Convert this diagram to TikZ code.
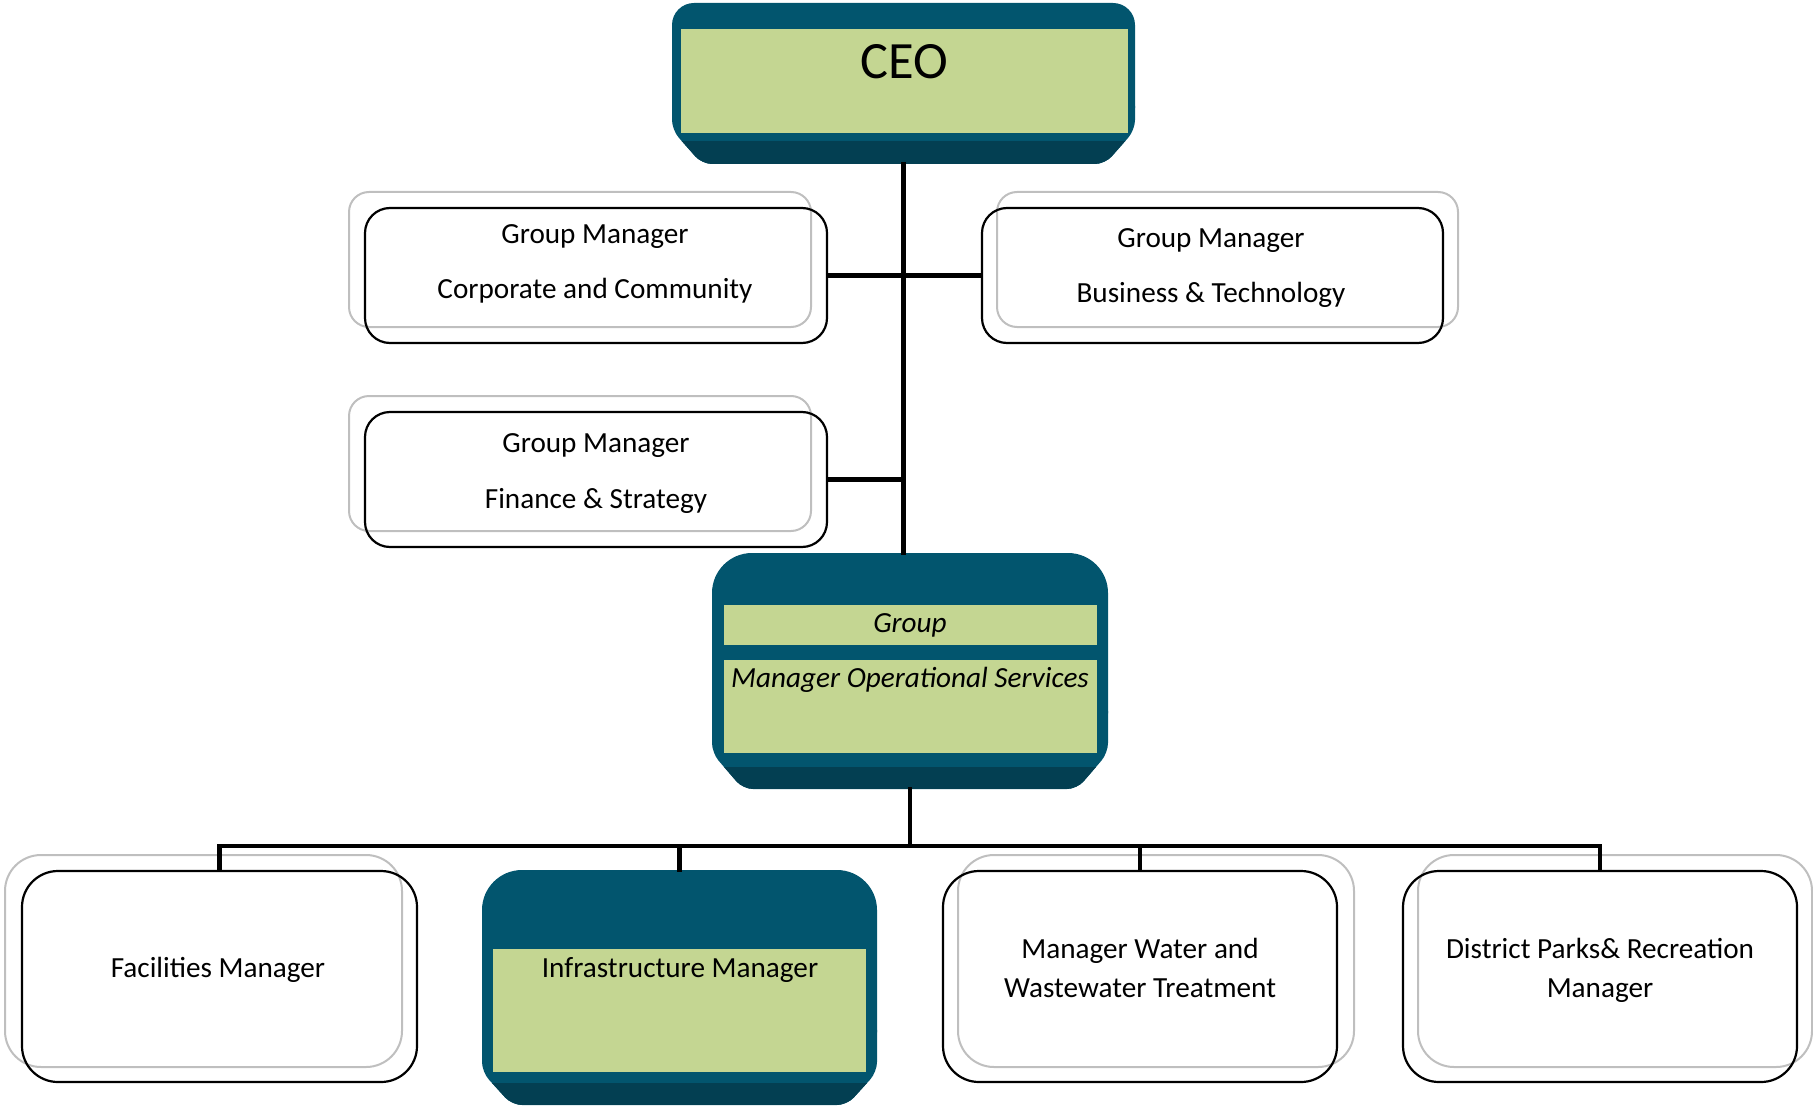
\documentclass[tikz,border=0pt]{standalone}
\usepackage{fontspec}
\setmainfont{Carlito}
\definecolor{tealtop}{RGB}{2,85,110}
\definecolor{tealdark}{RGB}{3,63,82}
\definecolor{boxgreen}{RGB}{196,214,146}
\definecolor{backgray}{RGB}{191,191,191}
% lower bevelled part: #1 x1, #2 top y, #3 x2, #4 y2, #5 y slant start, #6 dx
\newcommand\tealbevel[6]{(#1,#2) -- (#3,#2) -- (#3,#5) -- ({#3-#6},#4) -- ({#1+#6},#4) -- (#1,#5) -- cycle}
% #1 x1, #2 y1, #3 x2, #4 y2, #5 top radius (pt), #6 y slant start, #7 dx,
% #8 y where the darker band starts, #9 top of the bevelled part
\newcommand\tealshape[9]{%
  \fill[tealtop, rounded corners=#5] (#1,#2) rectangle (#3,#6);
  \fill[tealtop, rounded corners=5pt] \tealbevel{#1}{#9}{#3}{#4}{#6}{#7};
  \begin{scope}
    \clip[rounded corners=5pt] \tealbevel{#1}{#9}{#3}{#4}{#6}{#7};
    \fill[tealdark] (#1,#8) rectangle (#3,#4);
  \end{scope}}
\begin{document}
\begin{tikzpicture}[x=0.5pt,y=-0.5pt,
  conn/.style={line width=2.4pt, line cap=rect, line join=miter},
  frontbox/.style={draw=black, line width=1.1pt, inner sep=0pt},
  backbox/.style={draw=backgray, line width=1pt},
  txt/.style={font=\fontsize{14.6}{17}\selectfont, anchor=base, inner sep=0pt},
  ittxt/.style={txt, font=\fontsize{14.6}{17}\selectfont\itshape},
  hidden/.style={inner sep=0pt, draw=none}]
\useasboundingbox (0,0) rectangle (1813,1107);

% ---------- CEO ----------
\tealshape{672}{3}{1135}{164}{11pt}{130}{30}{141}{96}
\fill[boxgreen] (681,29) rectangle (1128,133);
\node[hidden, minimum width=231.5pt, minimum height=80.5pt] (ceo) at (903.5,83.5) {};
\node[txt, font=\fontsize{26.2}{30}\selectfont] (ceot) at (904,79) {CEO};

% ---------- Group Manager Operational Services ----------
\tealshape{712}{553}{1108}{789}{20pt}{753}{31}{767}{701}
\fill[boxgreen] (724,605) rectangle (1097,645);
\fill[boxgreen] (724,660) rectangle (1097,753);
\node[hidden, minimum width=198pt, minimum height=118pt] (gmos) at (910,671) {};
\node[ittxt] (gmost1) at (910,632) {Group};
\node[ittxt] (gmost2) at (910,687) {Manager Operational Services};

% ---------- top white boxes ----------
\draw[backbox, rounded corners=10pt] (349,192) rectangle (811,327);
\node[frontbox, rounded corners=12.5pt, minimum width=231pt, minimum height=67.5pt] (corp) at (596,275.5) {};
\node[txt] (corpt1) at (595,243) {Group Manager};
\node[txt] (corpt2) at (595,298) {Corporate and Community};

\draw[backbox, rounded corners=10pt] (997,192) rectangle (1458,327);
\node[frontbox, rounded corners=12.5pt, minimum width=230.5pt, minimum height=67.5pt] (bus) at (1212.5,275.5) {};
\node[txt] (bust1) at (1211,248) {Group Manager};
\node[txt] (bust2) at (1211,302) {Business \& Technology};

\draw[backbox, rounded corners=10pt] (349,396) rectangle (811,531);
\node[frontbox, rounded corners=12.5pt, minimum width=231pt, minimum height=67.5pt] (fin) at (596,479.5) {};
\node[txt] (fint1) at (596,452) {Group Manager};
\node[txt] (fint2) at (596,508) {Finance \& Strategy};

% ---------- bottom row ----------
\draw[backbox, rounded corners=18pt] (5,855) rectangle (402,1067);
\node[frontbox, rounded corners=18pt, minimum width=197.5pt, minimum height=105.5pt] (fac) at (219.5,976.5) {};
\node[txt] (fact) at (218,977) {Facilities Manager};

\tealshape{482}{870}{877}{1105}{20pt}{1072}{30}{1083}{1020}
\fill[boxgreen] (493,949) rectangle (866,1072);
\node[hidden, minimum width=197.5pt, minimum height=117.5pt] (infra) at (679.5,987.5) {};
\node[txt] (infrat) at (680,977) {Infrastructure Manager};

\draw[backbox, rounded corners=18pt] (958,855) rectangle (1354,1067);
\node[frontbox, rounded corners=18pt, minimum width=197pt, minimum height=105.5pt] (water) at (1140,976.5) {};
\node[txt] (watert1) at (1140,958) {Manager Water and};
\node[txt] (watert2) at (1140,997) {Wastewater Treatment};

\draw[backbox, rounded corners=18pt] (1418,855) rectangle (1812,1067);
\node[frontbox, rounded corners=18pt, minimum width=197pt, minimum height=105.5pt] (dist) at (1600,976.5) {};
\node[txt] (distt1) at (1600,958) {District Parks\& Recreation};
\node[txt] (distt2) at (1600,997) {Manager};

% ---------- connectors ----------
\draw[conn] (ceo.south) -- (ceo.south |- gmos.north);
\draw[conn] (corp.east) -- (bus.west);
\draw[conn] (fin.east) -- (fin.east -| ceo.south);
\coordinate (hub) at (910,846);
\draw[conn] (gmos.south) -- (hub);
\draw[conn] (fac.north) -- (fac.north |- hub) -- (dist.north |- hub) -- (dist.north);
\draw[conn] (infra.north) -- (infra.north |- hub);
\draw[conn] (water.north) -- (water.north |- hub);
\end{tikzpicture}
\end{document}
